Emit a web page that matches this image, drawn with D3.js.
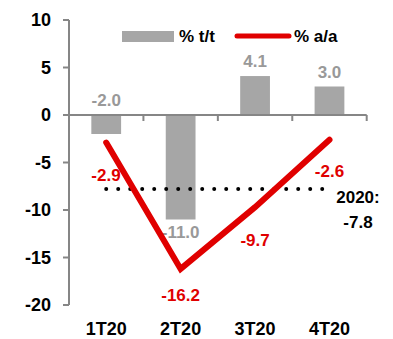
<!DOCTYPE html>
<html>
<head>
<meta charset="utf-8">
<style>
  body { margin: 0; background: #fff; }
  svg { display: block; font-family: 'Liberation Sans Narrow', 'Arial Narrow', Arial, sans-serif; font-weight: bold; }
</style>
</head>
<body>
<svg width="393" height="339"></svg>
<script src="https://d3js.org/d3.v7.min.js"></script>
<script>
  let quarters = ["1T20", "2T20", "3T20", "4T20"]
  let qoq = [-2.0, -11.0, 4.1, 3.0]
  let yoy = [-2.9, -16.2, -9.7, -2.6]
  let annual = -7.8
  let yTicks = [10, 5, 0, -5, -10, -15, -20]

  let svg = d3.select("svg")
  let x = d3.scaleBand().domain(quarters).range([69, 366.7]).padding(0)
  let y = d3.scaleLinear().domain([-20, 10]).range([305, 20])
  let cx = d => x(d) + x.bandwidth() / 2
  let barW = x.bandwidth() * 0.4
  let axisGray = "#868686"
  let red = "#e00000"

  // y axis
  svg.append("line")
    .attr("x1", 69).attr("x2", 69)
    .attr("y1", y(10)).attr("y2", y(-20))
    .attr("stroke", axisGray).attr("stroke-width", 2)
  svg.append("g").selectAll("line").data(yTicks).join("line")
    .attr("x1", 63).attr("x2", 69)
    .attr("y1", d => y(d)).attr("y2", d => y(d))
    .attr("stroke", axisGray).attr("stroke-width", 2)
  svg.append("g").selectAll("text").data(yTicks).join("text")
    .attr("x", 51).attr("y", d => y(d)).attr("dy", "0.35em")
    .attr("text-anchor", "end").attr("font-size", 18)
    .text(d => d)

  // bars
  svg.append("g").selectAll("rect").data(qoq).join("rect")
    .attr("x", (d, i) => cx(quarters[i]) - barW / 2)
    .attr("width", barW)
    .attr("y", d => y(Math.max(0, d)))
    .attr("height", d => Math.abs(y(d) - y(0)))
    .attr("fill", "#a6a6a6")

  // x axis at zero
  svg.append("line")
    .attr("x1", 69).attr("x2", 366.7)
    .attr("y1", y(0)).attr("y2", y(0))
    .attr("stroke", axisGray).attr("stroke-width", 2)
  let bounds = quarters.map(q => x(q)).concat([x(quarters[3]) + x.bandwidth()])
  svg.append("g").selectAll("line").data(bounds.slice(1)).join("line")
    .attr("x1", d => d).attr("x2", d => d)
    .attr("y1", y(0)).attr("y2", y(0) + 6)
    .attr("stroke", axisGray).attr("stroke-width", 2)
  svg.append("g").selectAll("text").data(quarters).join("text")
    .attr("x", d => cx(d)).attr("y", 335)
    .attr("text-anchor", "middle").attr("font-size", 18)
    .text(d => d)

  // bar labels
  let barLabelY = [y(0) - 9, y(-11.0) + 18, y(4.1) - 9, y(3.0) - 9]
  svg.append("g").selectAll("text").data(qoq).join("text")
    .attr("x", (d, i) => cx(quarters[i]))
    .attr("y", (d, i) => barLabelY[i])
    .attr("text-anchor", "middle").attr("font-size", 17)
    .attr("fill", "#999999")
    .text(d => d.toFixed(1))

  // annual dotted line
  svg.append("line")
    .attr("x1", cx(quarters[0])).attr("x2", cx(quarters[3]) - 5)
    .attr("y1", y(annual)).attr("y2", y(annual))
    .attr("stroke", "#000").attr("stroke-width", 4)
    .attr("stroke-linecap", "round").attr("stroke-dasharray", "0 12")
  svg.append("text").attr("x", 358).attr("y", 203)
    .attr("text-anchor", "middle").attr("font-size", 17).text("2020:")
  svg.append("text").attr("x", 358).attr("y", 228)
    .attr("text-anchor", "middle").attr("font-size", 17).text(annual.toFixed(1))

  // yoy line
  let line = d3.line().x((d, i) => cx(quarters[i])).y(d => y(d))
  svg.append("path").datum(yoy)
    .attr("d", line)
    .attr("fill", "none").attr("stroke", red).attr("stroke-width", 6)
    .attr("stroke-linecap", "round").attr("stroke-linejoin", "miter")
  let lineLabelPos = [[106 - cx(quarters[0]), 181], [0, 301], [0, 246], [0, 177]]
  svg.append("g").selectAll("text").data(yoy).join("text")
    .attr("x", (d, i) => cx(quarters[i]) + lineLabelPos[i][0])
    .attr("y", (d, i) => lineLabelPos[i][1])
    .attr("text-anchor", "middle").attr("font-size", 17)
    .attr("fill", red)
    .text(d => d.toFixed(1))

  // legend
  svg.append("rect").attr("x", 122).attr("y", 31).attr("width", 52).attr("height", 11)
    .attr("fill", "#a6a6a6")
  svg.append("text").attr("x", 179).attr("y", 42).attr("font-size", 17).text("% t/t")
  svg.append("line").attr("x1", 237).attr("x2", 289).attr("y1", 36).attr("y2", 36)
    .attr("stroke", red).attr("stroke-width", 5).attr("stroke-linecap", "round")
  svg.append("text").attr("x", 294).attr("y", 42).attr("font-size", 17).text("% a/a")
</script>
</body>
</html>
